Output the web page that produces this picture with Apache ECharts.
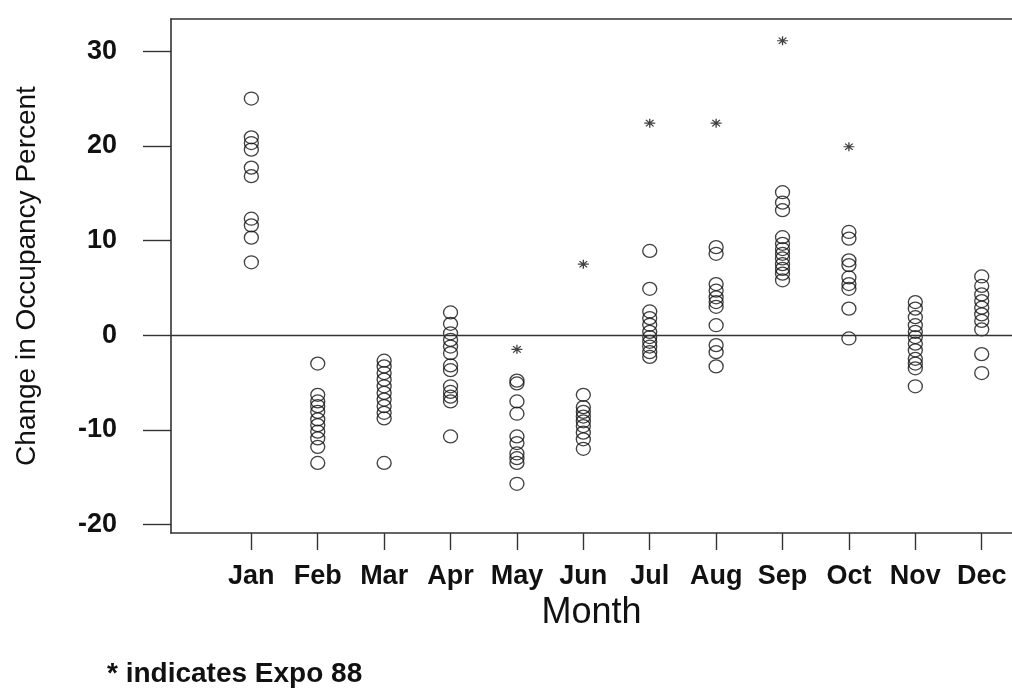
<!DOCTYPE html>
<html>
<head>
<meta charset="utf-8">
<script src="https://cdn.jsdelivr.net/npm/echarts@6/dist/echarts.min.js"></script>
<style>
  html, body { margin: 0; padding: 0; background: #ffffff; }
  #chart { width: 1012px; height: 693px; }
</style>
</head>
<body>
<div id="chart"></div>
<script>
// Month categories along the horizontal axis
const months = ['Jan', 'Feb', 'Mar', 'Apr', 'May', 'Jun', 'Jul', 'Aug', 'Sep', 'Oct', 'Nov', 'Dec'];

// Yearly change in occupancy percent, one list per month
const janValues = [25.0, 20.9, 20.3, 19.6, 17.7, 16.8, 12.3, 11.6, 10.3, 7.7];
const febValues = [-3.0, -6.3, -7.0, -7.5, -8.1, -8.9, -9.5, -10.2, -10.9, -11.8, -13.5];
const marValues = [-2.7, -3.3, -4.0, -4.7, -5.4, -6.1, -6.8, -7.5, -8.2, -8.8, -13.5];
const aprValues = [2.4, 1.2, 0.2, -0.5, -1.2, -1.9, -3.2, -3.7, -5.4, -6.0, -6.5, -7.0, -10.7];
const mayValues = [-4.8, -5.1, -7.0, -8.3, -10.7, -11.4, -12.5, -13.0, -13.5, -15.7];
const junValues = [-6.3, -7.6, -8.1, -8.6, -9.1, -9.6, -10.3, -11.0, -12.0];
const julValues = [8.9, 4.9, 2.5, 1.8, 1.1, 0.35, -0.2, -0.7, -1.2, -1.8, -2.3];
const augValues = [9.3, 8.6, 5.4, 4.7, 4.0, 3.5, 3.0, 1.05, -1.05, -1.8, -3.3];
const sepValues = [15.1, 14.0, 13.2, 10.35, 9.65, 9.1, 8.6, 8.1, 7.5, 7.0, 6.5, 5.8];
const octValues = [10.9, 10.2, 7.9, 7.4, 6.1, 5.4, 4.9, 2.8, -0.35];
const novValues = [3.5, 2.8, 1.9, 1.05, 0.35, -0.2, -0.9, -1.6, -2.5, -3.0, -3.5, -5.4];
const decValues = [6.2, 5.2, 4.3, 3.6, 2.9, 2.2, 1.5, 0.6, -2.0, -4.0];

// Expo 88 months (1 = Jan) and their values
const expoMonths = [5, 6, 7, 8, 9, 10];
const expoValues = [-1.5, 7.5, 22.4, 22.4, 31.1, 19.9];

// Tick labels
const yTicks = [-20, -10, 0, 10, 20, 30];
const xTicks = [1, 2, 3, 4, 5, 6, 7, 8, 9, 10, 11, 12];

const monthly = [janValues, febValues, marValues, aprValues, mayValues, junValues,
                 julValues, augValues, sepValues, octValues, novValues, decValues];

const circlePoints = [];
monthly.forEach((vals, i) => vals.forEach(v => circlePoints.push([i + 1, v])));
const expoPoints = expoMonths.map((m, i) => [m, expoValues[i]]);

const FONT = '"Liberation Sans", Arial, Helvetica, sans-serif';
const INK = '#111';
const LINE = '#333';

// Asterisk glyph used for the Expo 88 points
const asterisk = 'path://M5 0L5 10M0 5L10 5M1.5 1.5L8.5 8.5M8.5 1.5L1.5 8.5';

const chart = echarts.init(document.getElementById('chart'), null, { renderer: 'canvas' });

chart.setOption({
  animation: false,
  backgroundColor: '#ffffff',
  grid: { left: 171, right: 0, top: 19, bottom: 160, containLabel: false, outerBoundsMode: 'none' },
  xAxis: [{
    type: 'value',
    min: -0.21,
    max: 12.456,
    position: 'bottom',
    splitLine: { show: false },
    axisLine: { show: true, onZero: false, lineStyle: { color: LINE, width: 1.6 } },
    axisTick: { show: true, customValues: xTicks, length: 17, lineStyle: { color: LINE, width: 1.4 } },
    axisLabel: {
      customValues: xTicks,
      formatter: v => months[Math.round(v) - 1] || '',
      color: INK, fontFamily: FONT, fontSize: 27, fontWeight: 'bold', margin: 30
    },
    name: 'Month',
    nameLocation: 'middle',
    nameGap: 62,
    nameTextStyle: { color: INK, fontFamily: FONT, fontSize: 36 }
  }, {
    // top border of the plotting area
    type: 'value',
    min: -0.21,
    max: 12.456,
    position: 'top',
    splitLine: { show: false },
    axisLine: { show: true, onZero: false, lineStyle: { color: LINE, width: 1.6 } },
    axisTick: { show: false },
    axisLabel: { show: false }
  }],
  yAxis: {
    type: 'value',
    min: -20.9,
    max: 33.4,
    splitLine: { show: false },
    axisLine: { show: true, onZero: false, lineStyle: { color: LINE, width: 1.6 } },
    axisTick: { show: true, customValues: yTicks, length: 28, lineStyle: { color: LINE, width: 1.4 } },
    axisLabel: {
      customValues: yTicks,
      color: INK, fontFamily: FONT, fontSize: 27, fontWeight: 'bold', margin: 54
    },
    name: 'Change in Occupancy Percent',
    nameLocation: 'middle',
    nameGap: 130,
    nameTextStyle: { color: INK, fontFamily: FONT, fontSize: 28 }
  },
  series: [{
    name: 'Occupancy change',
    type: 'scatter',
    data: circlePoints,
    symbol: 'circle',
    symbolSize: [14, 13],
    itemStyle: { color: 'rgba(0,0,0,0)', borderColor: INK, borderWidth: 1.3 },
    markLine: {
      silent: true,
      symbol: 'none',
      label: { show: false },
      lineStyle: { color: LINE, width: 1.4, type: 'solid' },
      data: [{ yAxis: 0 }]
    },
    z: 3
  }, {
    name: 'Expo 88',
    type: 'scatter',
    data: expoPoints,
    symbol: asterisk,
    symbolSize: [11, 9],
    itemStyle: { color: 'rgba(0,0,0,0)', borderColor: INK, borderWidth: 1.2 },
    z: 4
  }],
  graphic: [{
    type: 'text',
    left: 107,
    top: 660,
    style: {
      text: '* indicates Expo 88',
      font: 'bold 28px ' + FONT,
      fill: INK
    }
  }]
});
</script>
</body>
</html>
